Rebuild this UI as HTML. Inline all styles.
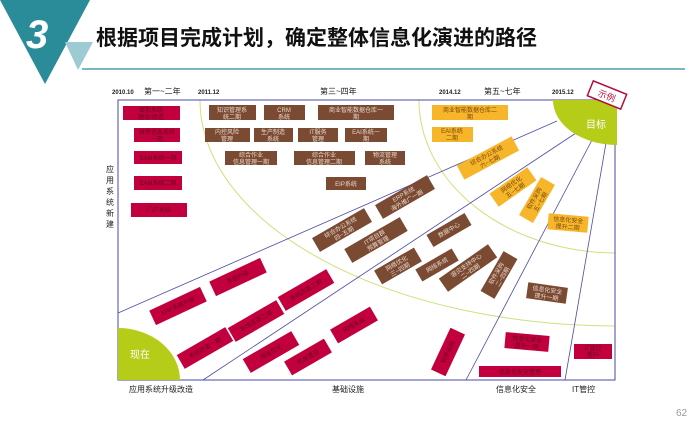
<!DOCTYPE html>
<html><head><meta charset="utf-8"><style>
html,body{margin:0;padding:0;background:#fff;width:697px;height:427px;overflow:hidden}
svg text{font-family:"Liberation Sans","Noto Sans CJK SC",sans-serif}
</style></head><body>
<svg width="697" height="427" viewBox="0 0 697 427" xmlns="http://www.w3.org/2000/svg">
<defs><clipPath id="fr"><rect x="118" y="100" width="497" height="280"/></clipPath></defs>
<polygon points="0,0 90,0 45,84" fill="#2b8c99"/>
<polygon points="65,42 93,42 78,70" fill="#9ccbd3"/>
<text x="26" y="48" font-size="40" font-weight="bold" font-style="italic" fill="#fff">3</text>
<text x="96" y="45" font-size="21" font-weight="bold" fill="#111" style="font-family:'Noto Sans CJK SC',sans-serif">根据项目完成计划，确定整体信息化演进的路径</text>
<line x1="82" y1="69" x2="685" y2="69" stroke="#2b8c99" stroke-width="1.2"/>

<g font-size="6" font-weight="bold" fill="#222">
<text x="112" y="94">2010.10</text><text x="198" y="94">2011.12</text>
<text x="439" y="94">2014.12</text><text x="552" y="94">2015.12</text></g>
<g font-size="8" fill="#222">
<text x="144" y="94">第一~二年</text><text x="320" y="94">第三~四年</text><text x="484" y="94">第五~七年</text>
<text x="129" y="392">应用系统升级改造</text><text x="332" y="392">基础设施</text>
<text x="496" y="392">信息化安全</text><text x="572" y="392">IT管控</text></g>
<g font-size="8" fill="#222" text-anchor="middle">
<text x="110" y="172">应</text><text x="110" y="183">用</text><text x="110" y="194">系</text><text x="110" y="205">统</text><text x="110" y="216">新</text><text x="110" y="227">建</text></g>
<text x="676" y="416" font-size="10" fill="#999">62</text>

<g fill="none" clip-path="url(#fr)">
<ellipse cx="617" cy="100" rx="417" ry="226" stroke="#cfe07a" stroke-width="1"/>
<ellipse cx="617" cy="100" rx="198" ry="153" stroke="#cfe07a" stroke-width="1"/>
</g>
<path d="M118,100 H615 V380 H118 Z" fill="none" stroke="#4a4aa8" stroke-width="1"/>
<g stroke="#4a4aa8" stroke-width="0.8">
<line x1="118" y1="313" x2="557" y2="121"/>
<line x1="203" y1="380" x2="576" y2="133"/>
<line x1="466" y1="380" x2="592" y2="140"/>
<line x1="565" y1="380" x2="606" y2="143"/>
</g>
<path d="M553,100 A64,45 0 0 0 617,145 V100 Z" fill="#b5cc18"/>
<text x="586" y="128" font-size="10" fill="#fff">目标</text>
<path d="M118,328 A62,52 0 0 1 180,380 H118 Z" fill="#b5cc18"/>
<text x="130" y="358" font-size="10" fill="#fff">现在</text>
<g transform="translate(607,95) rotate(22)">
<rect x="-18" y="-8" width="36" height="16" fill="#fff" stroke="#b0103c" stroke-width="1.5"/>
<text x="0" y="4" font-size="9" fill="#b0103c" text-anchor="middle">示例</text></g>

<g font-size="6" text-anchor="middle">
<g fill="#7b4a33">
<rect x="209" y="105" width="47" height="15"/><rect x="264" y="105" width="41" height="15"/><rect x="318" y="105" width="76" height="15"/>
<rect x="205" y="128" width="45" height="14"/><rect x="254" y="128" width="39" height="14"/><rect x="298" y="128" width="40" height="14"/><rect x="345" y="128" width="42" height="14"/>
<rect x="225" y="151" width="52" height="14"/><rect x="294" y="151" width="61" height="14"/><rect x="365" y="151" width="40" height="14"/>
<rect x="326" y="177" width="40" height="13"/>
</g>
<g fill="#e8d8cc">
<text x="232" y="112">知识管理系</text><text x="232" y="119">统二期</text>
<text x="284" y="112">CRM</text><text x="284" y="119">系统</text>
<text x="356" y="112">商业智能数据仓库一</text><text x="356" y="119">期</text>
<text x="227" y="134">内控风险</text><text x="227" y="141">管理</text>
<text x="273" y="134">生产制造</text><text x="273" y="141">系统</text>
<text x="318" y="134">IT服务</text><text x="318" y="141">管理</text>
<text x="366" y="134">EAI系统一</text><text x="366" y="141">期</text>
<text x="251" y="157">综合作业</text><text x="251" y="164">信息管理一期</text>
<text x="324" y="157">综合作业</text><text x="324" y="164">信息管理二期</text>
<text x="385" y="157">物流管理</text><text x="385" y="164">系统</text>
<text x="346" y="186">EIP系统</text>
</g>
<g fill="#c2003d">
<rect x="123" y="106" width="57" height="14"/><rect x="134" y="128" width="46" height="14"/>
<rect x="134" y="151" width="48" height="13"/><rect x="134" y="176" width="48" height="14"/><rect x="131" y="203" width="56" height="14"/>
</g>
<g fill="#6a0020">
<text x="151" y="112">审批系统</text><text x="151" y="119">建设/改造</text>
<text x="157" y="134">财务信息系统</text><text x="157" y="141">一期</text>
<text x="158" y="160">SAM系统一期</text><text x="158" y="185">EAM系统二期</text><text x="159" y="212">门户系统</text>
</g>
<g fill="#f7b52a"><rect x="432" y="105" width="76" height="15"/><rect x="432" y="127" width="41" height="15"/></g>
<g fill="#7a4a10"><text x="470" y="112">商业智能数据仓库二</text><text x="470" y="119">期</text><text x="452" y="133">EAI系统</text><text x="452" y="140">二期</text></g>

<g transform="translate(488,158) rotate(-28)"><rect x="-31" y="-8" width="62" height="16" fill="#f7b52a"/><text y="-1" fill="#7a4a10">综合办公系统</text><text y="6" fill="#7a4a10">六~七期</text></g>
<g transform="translate(513,187) rotate(-35)"><rect x="-23" y="-8" width="46" height="16" fill="#f7b52a"/><text y="-1" fill="#7a4a10">网络优化</text><text y="6" fill="#7a4a10">五~七期</text></g>
<g transform="translate(537,200) rotate(-60)"><rect x="-22" y="-8" width="44" height="16" fill="#f7b52a"/><text y="-1" fill="#7a4a10">软件采购</text><text y="6" fill="#7a4a10">五~七期</text></g>
<g transform="translate(568,223) rotate(5)"><rect x="-20" y="-8" width="40" height="16" fill="#f7b52a"/><text y="-1" fill="#7a4a10">信息化安全</text><text y="6" fill="#7a4a10">提升二期</text></g>

<g fill="#7b4a33">
<g transform="translate(405,197) rotate(-30)"><rect x="-30" y="-8" width="60" height="16"/></g>
<g transform="translate(342,230) rotate(-30)"><rect x="-30" y="-8" width="60" height="16"/></g>
<g transform="translate(376,240) rotate(-30)"><rect x="-32" y="-8" width="64" height="16"/></g>
<g transform="translate(449,230) rotate(-30)"><rect x="-22" y="-7" width="44" height="14"/></g>
<g transform="translate(398,266) rotate(-30)"><rect x="-23" y="-8" width="46" height="16"/></g>
<g transform="translate(437,265) rotate(-30)"><rect x="-21" y="-7" width="42" height="14"/></g>
<g transform="translate(468,268) rotate(-35)"><rect x="-30" y="-8" width="60" height="16"/></g>
<g transform="translate(499,275) rotate(-60)"><rect x="-23" y="-8" width="46" height="16"/></g>
<g transform="translate(547,293) rotate(8)"><rect x="-20" y="-8" width="40" height="16"/></g>
</g>
<g fill="#e8d8cc">
<g transform="translate(405,197) rotate(-30)"><text y="-1">ERP系统</text><text y="6">海外推广一期</text></g>
<g transform="translate(342,230) rotate(-30)"><text y="-1">综合办公系统</text><text y="6">四~五期</text></g>
<g transform="translate(376,240) rotate(-30)"><text y="-1">IT项目群</text><text y="6">预算管理</text></g>
<g transform="translate(449,230) rotate(-30)"><text y="2">数据中心</text></g>
<g transform="translate(398,266) rotate(-30)"><text y="-1">网络优化</text><text y="6">三~四期</text></g>
<g transform="translate(437,265) rotate(-30)"><text y="2">网络系统</text></g>
<g transform="translate(468,268) rotate(-35)"><text y="-1">容灾支持中心</text><text y="6">二~四期</text></g>
<g transform="translate(499,275) rotate(-60)"><text y="-1">软件采购</text><text y="6">二~四期</text></g>
<g transform="translate(547,293) rotate(8)"><text y="-1">信息化安全</text><text y="6">提升一期</text></g>
</g>

<g fill="#c2003d">
<g transform="translate(178,306) rotate(-25)"><rect x="-28" y="-8" width="56" height="16"/></g>
<g transform="translate(238,277) rotate(-25)"><rect x="-28" y="-8" width="56" height="16"/></g>
<g transform="translate(205,348) rotate(-30)"><rect x="-28" y="-8" width="56" height="16"/></g>
<g transform="translate(256,321) rotate(-30)"><rect x="-28" y="-8" width="56" height="16"/></g>
<g transform="translate(306,290) rotate(-30)"><rect x="-28" y="-8" width="56" height="16"/></g>
<g transform="translate(271,352) rotate(-30)"><rect x="-28" y="-8" width="56" height="16"/></g>
<g transform="translate(308,357) rotate(-30)"><rect x="-23" y="-8" width="46" height="16"/></g>
<g transform="translate(354,325) rotate(-30)"><rect x="-23" y="-8" width="46" height="16"/></g>
<g transform="translate(448,352) rotate(-65)"><rect x="-23" y="-8" width="46" height="16"/></g>
<g transform="translate(527,342) rotate(5)"><rect x="-22" y="-8" width="44" height="16"/></g>
<rect x="479" y="366" width="82" height="11"/>
<rect x="574" y="344" width="38" height="15"/>
</g>
<g fill="#6a0020">
<g transform="translate(178,306) rotate(-25)"><text y="2">ERP系统升级</text></g>
<g transform="translate(238,277) rotate(-25)"><text y="2">系统升级</text></g>
<g transform="translate(205,348) rotate(-30)"><text y="2">系统改造一期</text></g>
<g transform="translate(256,321) rotate(-30)"><text y="2">系统改造二期</text></g>
<g transform="translate(306,290) rotate(-30)"><text y="2">系统改造三期</text></g>
<g transform="translate(271,352) rotate(-30)"><text y="2">网络优化</text></g>
<g transform="translate(308,357) rotate(-30)"><text y="2">机房建设</text></g>
<g transform="translate(354,325) rotate(-30)"><text y="2">网络系统</text></g>
<g transform="translate(448,352) rotate(-65)"><text y="2">软件采购</text></g>
<g transform="translate(527,342) rotate(5)"><text y="-1">信息化安全</text><text y="6">提升一期</text></g>
<text x="520" y="374">信息化安全管理</text>
<text x="593" y="350">IT管控</text><text x="593" y="357">提升</text>
</g>
</g>
</svg>
</body></html>
